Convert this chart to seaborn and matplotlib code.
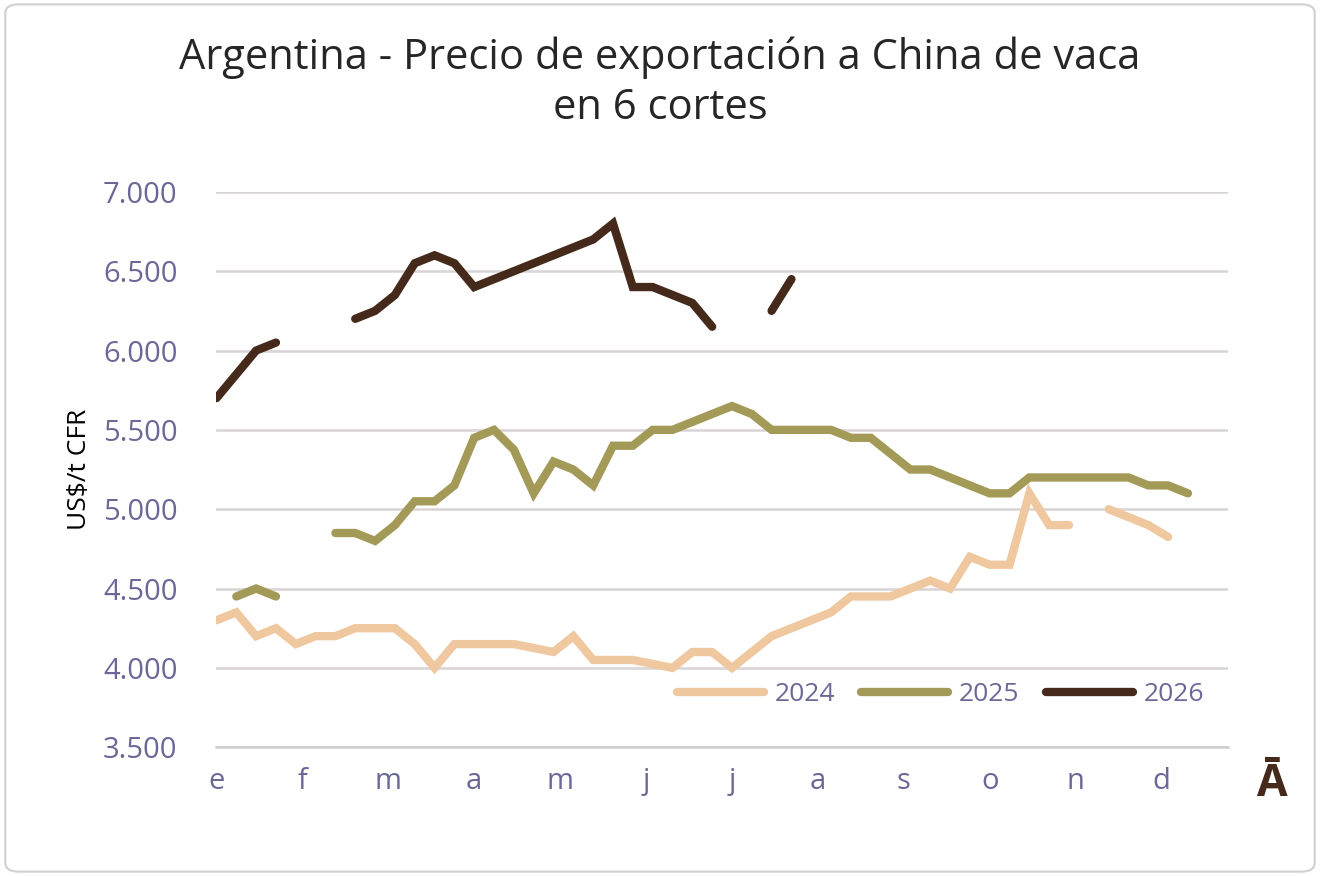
import matplotlib
matplotlib.use("Agg")
import matplotlib.pyplot as plt
import seaborn as sns
import pandas as pd
import numpy as np
from matplotlib.patches import FancyBboxPatch

nan = np.nan
months = ["e", "f", "m", "a", "m", "j", "j", "a", "s", "o", "n", "d"]
y_ticks = [3500, 4000, 4500, 5000, 5500, 6000, 6500, 7000]

p2024 = [4300, 4350, 4200, 4250, 4150, 4200, 4200, 4250, 4250, 4250,
         4150, 4000, 4150, 4150, 4150, 4150, 4125, 4100, 4200, 4050,
         4050, 4050, 4025, 4000, 4100, 4100, 4000, 4100, 4200, 4250,
         4300, 4350, 4450, 4450, 4450, 4500, 4550, 4500, 4700, 4650,
         4650, 5100, 4900, 4900, nan, 5000, 4950, 4900, 4825]
p2025 = [nan, 4450, 4500, 4450, nan, nan, 4850, 4850, 4800, 4900,
         5050, 5050, 5150, 5450, 5500, 5375, 5100, 5300, 5250, 5150,
         5400, 5400, 5500, 5500, 5550, 5600, 5650, 5600, 5500, 5500,
         5500, 5500, 5450, 5450, 5350, 5250, 5250, 5200, 5150, 5100,
         5100, 5200, 5200, 5200, 5200, 5200, 5200, 5150, 5150, 5100]
p2026 = [5700, 5850, 6000, 6050, nan, nan, nan, 6200, 6250, 6350,
         6550, 6600, 6550, 6400, 6450, 6500, 6550, 6600, 6650, 6700,
         6800, 6400, 6400, 6350, 6300, 6150, nan, nan, 6250, 6450]

series = {"2024": p2024, "2025": p2025, "2026": p2026}
colors = {"2024": "#F0C8A0", "2025": "#A39A58", "2026": "#45291A"}

rows = []
for name, vals in series.items():
    for i, v in enumerate(vals):
        rows.append({"semana": i, "precio": v, "serie": name})
df = pd.DataFrame(rows)

sns.set_theme(style="white")
plt.rcParams["font.family"] = ["Open Sans", "DejaVu Sans"]

fig = plt.figure(figsize=(13.2, 8.76), dpi=100)
ax = fig.add_axes([0.164, 0.147, 0.766, 0.634])

for name in series:
    sub = df[df["serie"] == name]
    ax.plot(sub["semana"], sub["precio"], color=colors[name], lw=6,
            solid_capstyle="round", solid_joinstyle="miter", label=name)

ax.set_xlim(0, 51)
ax.set_ylim(3500, 7000)
ax.set_yticks(y_ticks)
ax.set_yticklabels([f"{v:,}".replace(",", ".") for v in y_ticks])
ax.set_xticks([k * 52 / 12 for k in range(12)])
ax.set_xticklabels(months)
ax.tick_params(axis="both", colors="#6B6898", labelsize=21)
ax.tick_params(axis="x", length=8, width=1.5, color="#D0D0D0", pad=6, direction="out")
ax.tick_params(axis="y", length=0, pad=28)
ax.yaxis.grid(True, color="#D9D4D6", lw=1.8)
for s in ["top", "right", "left"]:
    ax.spines[s].set_visible(False)
ax.spines["bottom"].set_color("#D0D0D0")
ax.spines["bottom"].set_linewidth(1.8)
ax.set_ylabel("US$/t CFR", fontsize=19, color="black", labelpad=8)

ax.legend(loc="lower right", ncol=3, frameon=False, fontsize=19,
          labelcolor="#6B6898", handlelength=3.3, columnspacing=1.0,
          handletextpad=0.4, bbox_to_anchor=(1.0, 0.03))

fig.text(0.5, 0.905, "Argentina - Precio de exportación a China de vaca\nen 6 cortes",
         ha="center", va="center", fontsize=30, linespacing=1.25)
fig.text(0.963, 0.105, "Ā", ha="center", va="center", fontsize=32,
         fontweight="bold", color="#45291A")

fig.patches.append(FancyBboxPatch((0.004, 0.005), 0.992, 0.99,
                                  boxstyle="round,pad=0,rounding_size=0.01",
                                  transform=fig.transFigure, fill=False,
                                  edgecolor="#D0D0D0", lw=1.5))

fig.savefig("out.png", dpi=100)
